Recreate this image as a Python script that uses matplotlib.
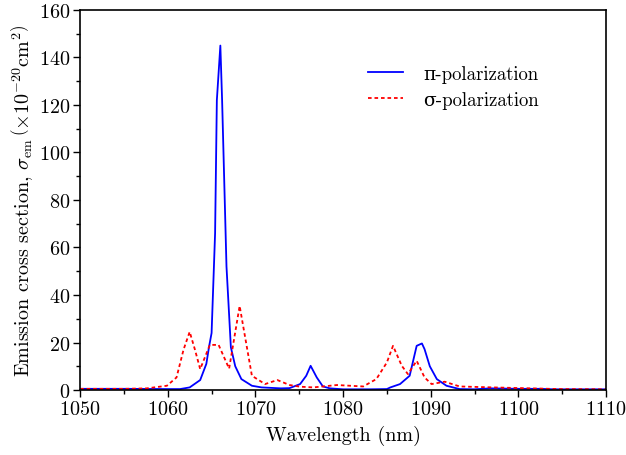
import matplotlib
matplotlib.use("Agg")
import matplotlib.pyplot as plt
from matplotlib.ticker import MultipleLocator

plt.rcParams['font.family'] = ['cmr10', 'DejaVu Serif']
plt.rcParams['mathtext.fontset'] = 'cm'
plt.rcParams['axes.formatter.use_mathtext'] = True

# pi-polarization (blue, solid)
pi_wl = [1050, 1055, 1060, 1061.4, 1062.5, 1063.7, 1064.4, 1064.7, 1065.0, 1065.4, 1065.6,
         1066.0, 1066.2, 1066.7, 1067.2, 1067.7, 1068.4, 1069.6, 1070.7, 1072.9, 1073.9,
         1075.1, 1075.8, 1076.3, 1077.0, 1077.7, 1078.5, 1080, 1083, 1085.0, 1085.4, 1086.5,
         1087.6, 1088.4, 1089.0, 1089.3, 1089.9, 1090.7, 1091.8, 1093.3, 1095, 1096.8,
         1100, 1102.5, 1104, 1110]
pi_val = [0.5, 0.5, 0.4, 0.4, 1.1, 4.2, 11, 18, 24, 66, 122,
          145, 122, 52, 18, 10, 4.6, 1.8, 1.1, 0.7, 0.8,
          2.5, 6, 10.2, 5.3, 1.5, 0.7, 0.3, 0.3, 0.4, 1.1, 2.5,
          6, 18.6, 19.6, 17.2, 10, 4.6, 1.8, 0.4, 0.3, 0.7,
          0.5, 0.5, 0.3, 0.3]

# sigma-polarization (red, dotted)
sg_wl = [1050, 1055, 1057.6, 1059.9, 1061.0, 1061.8, 1062.5, 1063.1, 1063.7, 1064.8, 1065.8,
         1067.0, 1068.2, 1069.6, 1071.1, 1072.5, 1073.9, 1075.1, 1076.6, 1079.3, 1082.3,
         1083.8, 1085.0, 1085.7, 1086.7, 1087.4, 1088.4, 1089.3, 1090.1, 1091.6, 1093.3,
         1097.1, 1104.7, 1110]
sg_val = [0.5, 0.5, 0.7, 1.8, 5.3, 17, 24.5, 17, 8.8, 19, 19,
          9, 35.4, 6, 2.5, 4.2, 2.1, 1.4, 1.1, 2.1, 1.5,
          4.6, 11.6, 18.6, 10.2, 6.7, 12.3, 5.3, 2.5, 3.5, 1.5,
          1.1, 0.4, 0.3]

fig = plt.figure(figsize=(6.26, 4.56), dpi=100)
ax = fig.add_axes([0.128, 0.1425, 0.84, 0.8335])

ax.plot(pi_wl, pi_val, color='#0000ff', lw=1.3, label='π-polarization')
ax.plot(sg_wl, sg_val, color='#ff0000', lw=1.3, ls=(0, (2, 1.6)), label='σ-polarization')

ax.set_xlim(1050, 1110)
ax.set_ylim(0, 160)
ax.xaxis.set_major_locator(MultipleLocator(10))
ax.xaxis.set_minor_locator(MultipleLocator(5))
ax.yaxis.set_major_locator(MultipleLocator(20))
ax.yaxis.set_minor_locator(MultipleLocator(10))
ax.tick_params(which='major', direction='out', length=5, width=1, labelsize=14.5,
               top=False, right=False, pad=2)
ax.tick_params(which='minor', direction='out', length=3, width=1, top=False, right=False)
for s in ax.spines.values():
    s.set_linewidth(1.2)

ax.set_xlabel('Wavelength (nm)', fontsize=14.5, labelpad=5)
ax.set_ylabel(r'Emission cross section, $\sigma_{\rm em}\,\left(\times10^{-20}{\rm cm}^{2}\right)$',
              fontsize=14.5, labelpad=3)

ax.legend(loc='upper left', bbox_to_anchor=(0.515, 0.9), frameon=False, fontsize=13.5,
          handlelength=1.9, handletextpad=1.05, labelspacing=0.42)

fig.savefig('out.png', dpi=100)
